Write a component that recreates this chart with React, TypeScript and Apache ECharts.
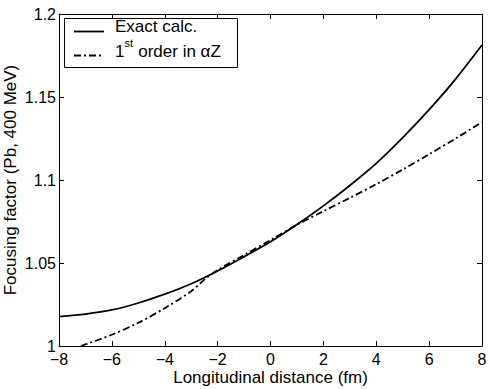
import React, { useEffect, useRef } from "react";
import * as echarts from "echarts";

// Exact calculation (solid line)
const exactX = [-8, -7, -6, -5, -4, -3, -2, -1, 0, 1, 2, 3, 4, 5, 6, 7, 8];
const exactY = [1.0177, 1.0192, 1.0217, 1.0259, 1.0312, 1.0375, 1.0452, 1.0538, 1.0628, 1.0732, 1.0844, 1.0967, 1.110, 1.1255, 1.1424, 1.1608, 1.1813];

// First order in alpha Z (dash-dot line)
const firstX = [-7.17, -6, -5, -4, -3, -2.5, -2, -1, 0, 1, 2, 3, 4, 5, 6, 7, 8];
const firstY = [1.0, 1.0068, 1.014, 1.0228, 1.033, 1.040, 1.0458, 1.0548, 1.0638, 1.073, 1.0812, 1.0892, 1.0975, 1.1063, 1.1155, 1.125, 1.1349];

const xMin = -8;
const xMax = 8;
const xStep = 2;
const yMin = 1;
const yMax = 1.2;
const yStep = 0.05;

const legendLabels = ["Exact calc.", "1", "st", " order in \u03b1Z"];
const xName = "Longitudinal distance (fm)";
const yName = "Focusing factor (Pb, 400 MeV)";

const FONT = "'Liberation Sans', Arial, Helvetica, sans-serif";

export default function App() {
  const ref = useRef<HTMLDivElement>(null);
  useEffect(() => {
    if (!ref.current) return;
    const chart = echarts.init(ref.current, undefined, { renderer: "svg" });
    const axisLine = { show: true, onZero: false, lineStyle: { color: "#000", width: 1 } };
    const axisTick = { show: true, inside: true, length: 5, lineStyle: { color: "#000", width: 1 } };
    const fmtX = (v: number) => (v < 0 ? "\u2212" + Math.abs(v) : String(v));
    const fmtY = (v: number) => String(Math.round(v * 100) / 100);
    chart.setOption({
      animation: false,
      backgroundColor: "#fff",
      grid: { left: 59, right: 9, top: 14, bottom: 43, containLabel: false, outerBoundsMode: "none" },
      xAxis: [
        {
          type: "value", min: xMin, max: xMax, interval: xStep, position: "bottom",
          axisLine, axisTick,
          axisLabel: { margin: 6, fontSize: 16, lineHeight: 14, color: "#000", fontFamily: FONT, formatter: fmtX },
          splitLine: { show: false },
          name: xName, nameLocation: "middle", nameGap: 23, nameMoveOverlap: false,
          nameTextStyle: { fontSize: 17, lineHeight: 17, color: "#000", fontFamily: FONT },
        },
        {
          type: "value", min: xMin, max: xMax, interval: xStep, position: "top",
          axisLine, axisTick, axisLabel: { show: false }, splitLine: { show: false },
        },
      ],
      yAxis: [
        {
          type: "value", min: yMin, max: yMax, interval: yStep, position: "left",
          axisLine, axisTick,
          axisLabel: { margin: 3, fontSize: 16, lineHeight: 12, color: "#000", fontFamily: FONT, formatter: fmtY },
          splitLine: { show: false },
          name: yName, nameLocation: "middle", nameGap: 40, nameMoveOverlap: false,
          nameTextStyle: { fontSize: 17, color: "#000", fontFamily: FONT },
        },
        {
          type: "value", min: yMin, max: yMax, interval: yStep, position: "right",
          axisLine, axisTick, axisLabel: { show: false }, splitLine: { show: false },
        },
      ],
      series: [
        {
          type: "line", name: "Exact calc.", xAxisIndex: 0, yAxisIndex: 0,
          data: exactX.map((x, i) => [x, exactY[i]]),
          smooth: 0.3, showSymbol: false,
          lineStyle: { color: "#000", width: 1.8 },
        },
        {
          type: "line", name: "1st order", xAxisIndex: 0, yAxisIndex: 0,
          data: firstX.map((x, i) => [x, firstY[i]]),
          smooth: 0.3, showSymbol: false,
          lineStyle: { color: "#000", width: 1.8, type: [7, 3, 2, 3] },
        },
      ],
      graphic: [
        {
          type: "rect", z: 100, shape: { x: 64.5, y: 18.5, width: 173, height: 49 },
          style: { fill: "#fff", stroke: "#000", lineWidth: 1 },
        },
        {
          type: "line", z: 101, shape: { x1: 74, y1: 31.5, x2: 104, y2: 31.5 },
          style: { stroke: "#000", lineWidth: 1.8 },
        },
        {
          type: "line", z: 101, shape: { x1: 74, y1: 55.5, x2: 104, y2: 55.5 },
          style: { stroke: "#000", lineWidth: 1.8, lineDash: [7, 3, 2, 3] },
        },
        {
          type: "text", z: 101, x: 115, y: 26.5,
          style: { text: legendLabels[0], font: `17px ${FONT}`, fill: "#000", verticalAlign: "middle" },
        },
        {
          type: "text", z: 101, x: 115, y: 51,
          style: { text: legendLabels[1], font: `17px ${FONT}`, fill: "#000", verticalAlign: "middle" },
        },
        {
          type: "text", z: 101, x: 124.6, y: 43,
          style: { text: legendLabels[2], font: `11px ${FONT}`, fill: "#000", verticalAlign: "middle" },
        },
        {
          type: "text", z: 101, x: 133.5, y: 51,
          style: { text: legendLabels[3], font: `17px ${FONT}`, fill: "#000", verticalAlign: "middle" },
        },
      ],
    });
    return () => chart.dispose();
  }, []);
  return <div ref={ref} style={{ position: "absolute", left: 0, top: 0, width: 491, height: 389 }} />;
}
